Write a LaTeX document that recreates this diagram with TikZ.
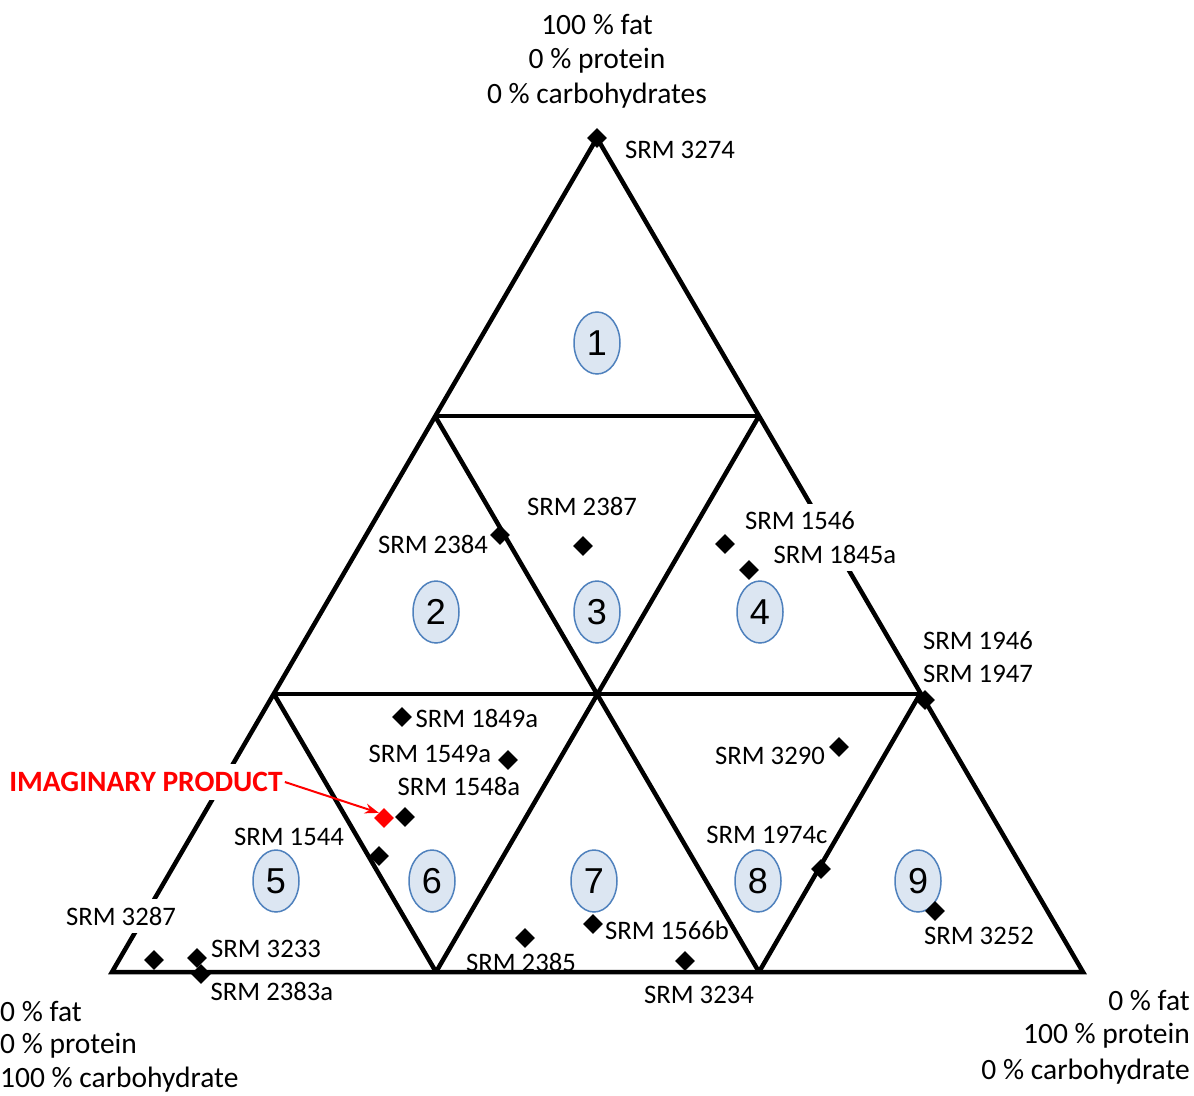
\documentclass[tikz,border=0pt]{standalone}
\usepackage{fontspec}
\setmainfont{Carlito}
\newfontfamily\numfont{Liberation Sans}
\usetikzlibrary{shapes.geometric,arrows.meta}
\definecolor{regfill}{HTML}{DCE6F2}
\definecolor{regdraw}{HTML}{4F81BD}
\definecolor{imred}{HTML}{FF0000}
\begin{document}
\begin{tikzpicture}[x=1pt,y=-1pt,
  edge/.style={line width=4.5pt, line join=miter},
  mk/.style={diamond, fill=black, inner sep=0pt, minimum size=20pt},
  lbl/.style={inner sep=0pt, font=\fontsize{26.7}{30}\selectfont},
  hide/.style={fill=white, inner xsep=2pt, inner ysep=8pt},
  corner/.style={inner sep=0pt, font=\fontsize{29.5}{36}\selectfont},
  reg/.style={ellipse, draw=regdraw, fill=regfill, line width=1.5pt, minimum width=46pt, minimum height=62pt, inner sep=0pt, font=\numfont\fontsize{36}{40}\selectfont}]
\useasboundingbox (0,0) rectangle (1194,1095);
% vertices
\coordinate (T) at (597,138);
\coordinate (L) at (112,972);
\coordinate (R) at (1083,972);
\coordinate (a) at (435,416);
\coordinate (b) at (759,416);
\coordinate (c) at (274,694);
\coordinate (m) at (597,694);
\coordinate (d) at (920,694);
\coordinate (e) at (436,972);
\coordinate (f) at (759,972);
\draw[edge] (T) -- (L) -- (R) -- cycle;
\draw[edge] (a) -- (b);
\draw[edge] (c) -- (d);
\draw[edge] (a) -- (f);
\draw[edge] (b) -- (e);
\draw[edge] (c) -- (e);
\draw[edge] (d) -- (f);
% regions
\node[reg] (r1) at (597,343) {1};
\node[reg] (r2) at (436,612) {2};
\node[reg] (r3) at (597,612) {3};
\node[reg] (r4) at (760,612) {4};
\node[reg] (r5) at (276,881) {5};
\node[reg] (r6) at (432,881) {6};
\node[reg] (r7) at (594,881) {7};
\node[reg] (r8) at (758,881) {8};
\node[reg] (r9) at (918,881) {9};
% corner texts
\node[corner] (t1) at (597,25) {100 \% fat};
\node[corner] (t2) at (597,61) {0 \% protein};
\node[corner] (t3) at (597,96) {0 \% carbohydrates};
\node[corner,anchor=west] (bl1) at (0,1011) {0 \% fat};
\node[corner,anchor=west] (bl2) at (0,1046) {0 \% protein};
\node[corner,anchor=west] (bl3) at (0,1080) {100 \% carbohydrate};
\node[corner,anchor=east] (br1) at (1190,1000) {0 \% fat};
\node[corner,anchor=east] (br2) at (1190,1036) {100 \% protein};
\node[corner,anchor=east] (br3) at (1190,1072) {0 \% carbohydrate};
% labels
\node[lbl] (l3274) at (680,150) {SRM 3274};
\node[lbl] (l2384) at (433,544) {SRM 2384};
\node[lbl] (l2387) at (582,506) {SRM 2387};
\node[lbl,hide] (l1546) at (800,521) {SRM 1546};
\node[lbl,hide] (l1845) at (835,554) {SRM 1845a};
\node[lbl] (l1946) at (978,641) {SRM 1946};
\node[lbl] (l1947) at (978,674) {SRM 1947};
\node[lbl] (l1849) at (477,718) {SRM 1849a};
\node[lbl] (l1549) at (430,754) {SRM 1549a};
\node[lbl] (l1548) at (459,786) {SRM 1548a};
\node[lbl] (l1544) at (289,837) {SRM 1544};
\node[lbl,hide] (l3287) at (121,916) {SRM 3287};
\node[lbl] (l3233) at (266,949) {SRM 3233};
\node[lbl] (l2383) at (272,991) {SRM 2383a};
\node[lbl] (l2385) at (521,962) {SRM 2385};
\node[lbl] (l1566) at (667,930) {SRM 1566b};
\node[lbl] (l3234) at (699,995) {SRM 3234};
\node[lbl] (l3290) at (770,756) {SRM 3290};
\node[lbl] (l1974) at (767,835) {SRM 1974c};
\node[lbl] (l3252) at (979,936) {SRM 3252};
\node[lbl,hide,text=imred,font=\bfseries\fontsize{29.5}{32}\selectfont] (limag) at (146,782) {IMAGINARY PRODUCT};
% markers
\node[mk] (m3274) at (597,138) {};
\node[mk] (m2384) at (500,535) {};
\node[mk] (m2387) at (583,546) {};
\node[mk] (m1546) at (725,544) {};
\node[mk] (m1845) at (749,570) {};
\node[mk] (m1946) at (925,700) {};
\node[mk] (m1849) at (402,717) {};
\node[mk] (m1549) at (508,760) {};
\node[mk] (m1548) at (405,817) {};
\node[mk,fill=imred] (mimag) at (384,818) {};
\node[mk] (m1544) at (379,856) {};
\node[mk] (m3287) at (154,960) {};
\node[mk] (m3233) at (197,958) {};
\node[mk] (m2383) at (201,974) {};
\node[mk] (m2385) at (525,938) {};
\node[mk] (m1566) at (593,924) {};
\node[mk] (m3234) at (685,961) {};
\node[mk] (m3290) at (839,747) {};
\node[mk] (m1974) at (821,869) {};
\node[mk] (m3252) at (935,911) {};
\draw[imred, line width=2pt, -{Stealth[length=14pt,width=10pt]}] (limag.east) -- (mimag.north west);
\end{tikzpicture}
\end{document}
